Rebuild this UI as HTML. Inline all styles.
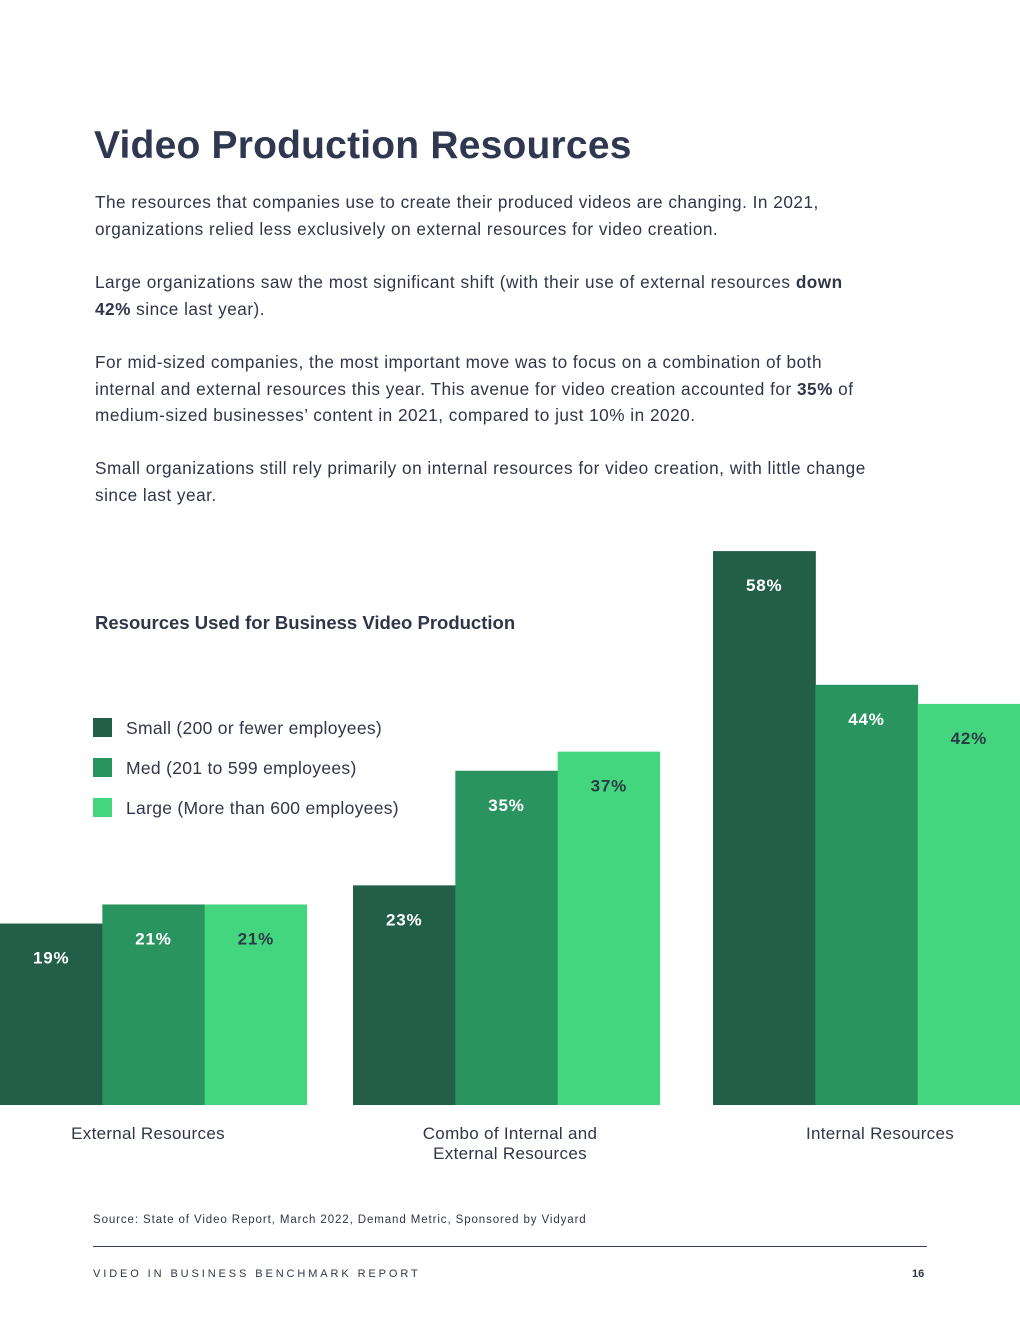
<!DOCTYPE html>
<html><head><meta charset="utf-8"><style>
body{margin:0;width:1020px;height:1320px;background:#fff;font-family:"Liberation Sans",sans-serif;color:#2f3649;position:relative;overflow:hidden}
.abs{position:absolute}
h1{position:absolute;left:94px;top:124px;margin:0;font-size:39px;font-weight:bold;color:#303850;letter-spacing:0.2px}
.p{position:absolute;left:95px;width:900px;font-size:17.2px;line-height:26.5px;color:#2f3649;white-space:nowrap;letter-spacing:0.5px}
.leg{position:absolute;left:93px;font-size:17.5px;color:#2f3649;letter-spacing:0.3px}
.leg span{display:inline-block;width:19px;height:19px;vertical-align:-3px;margin-right:14px}
.cat{position:absolute;font-size:17px;text-align:center;line-height:20px;width:260px;letter-spacing:0.3px}
</style></head><body>
<h1>Video Production Resources</h1>
<div class="p" style="top:189px">The resources that companies use to create their produced videos are changing. In 2021,<br>organizations relied less exclusively on external resources for video creation.</div>
<div class="p" style="top:269px">Large organizations saw the most significant shift (with their use of external resources <b>down</b><br><b>42%</b> since last year).</div>
<div class="p" style="top:349px">For mid-sized companies, the most important move was to focus on a combination of both<br>internal and external resources this year. This avenue for video creation accounted for <b>35%</b> of<br>medium-sized businesses’ content in 2021, compared to just 10% in 2020.</div>
<div class="p" style="top:455px">Small organizations still rely primarily on internal resources for video creation, with little change<br>since last year.</div>
<div class="abs" style="left:95px;top:612px;font-size:18.5px;font-weight:bold">Resources Used for Business Video Production</div>
<div class="leg" style="top:718px"><span style="background:#235e48"></span>Small (200 or fewer employees)</div>
<div class="leg" style="top:758px"><span style="background:#2a9460"></span>Med (201 to 599 employees)</div>
<div class="leg" style="top:798px"><span style="background:#44d67f"></span>Large (More than 600 employees)</div>
<svg class="abs" style="left:0;top:0" width="1020" height="1320" id="chart"></svg>
<div class="cat" style="left:18px;top:1124px">External Resources</div>
<div class="cat" style="left:380px;top:1124px">Combo of Internal and<br>External Resources</div>
<div class="cat" style="left:750px;top:1124px">Internal Resources</div>
<div class="abs" style="left:93px;top:1214px;font-size:11.5px;letter-spacing:0.9px">Source: State of Video Report, March 2022, Demand Metric, Sponsored by Vidyard</div>
<div class="abs" style="left:93px;top:1246px;width:834px;height:1px;background:#3a3f5a"></div>
<div class="abs" style="left:93px;top:1268px;font-size:11px;letter-spacing:2.9px">VIDEO IN BUSINESS BENCHMARK REPORT</div>
<div class="abs" style="left:912px;top:1268px;font-size:11px;font-weight:bold">16</div>
<script>
const categories=["External Resources","Combo of Internal and External Resources","Internal Resources"];
const small=[19,23,58];
const med=[21,35,44];
const large=[21,37,42];
const series=[small,med,large];
const seriesNames=["small","med","large"];
const colors=["#235e48","#2a9460","#44d67f"];
const textColors=["#fff","#fff","#2b3b45"];
const groupLeft=[0,353,713],groupW=[307,307,307],base=1105,k=9.55;
const y=v=>base-v*k;
const svg=document.getElementById('chart');
const NS="http://www.w3.org/2000/svg";
categories.forEach((c,gi)=>{
  const bw=groupW[gi]/3;
  series.forEach((s,si)=>{
    const x=groupLeft[gi]+si*bw;
    const r=document.createElementNS(NS,'rect');
    r.setAttribute('x',x);r.setAttribute('y',y(s[gi]));
    r.setAttribute('width',bw+(si<2?0.5:0));r.setAttribute('height',base-y(s[gi]));
    r.setAttribute('fill',colors[si]);
    
    
    svg.appendChild(r);
    const t=document.createElementNS(NS,'text');
    t.setAttribute('x',x+bw/2);t.setAttribute('y',y(s[gi])+40);
    t.setAttribute('text-anchor','middle');t.setAttribute('font-size','17');t.setAttribute('font-weight','bold');
    t.setAttribute('font-family','Liberation Sans, sans-serif');t.setAttribute('fill',textColors[si]);
    t.setAttribute('letter-spacing','0.8');
    t.textContent=s[gi]+'%';
    
    
    svg.appendChild(t);
  });
});
</script>
</body></html>
